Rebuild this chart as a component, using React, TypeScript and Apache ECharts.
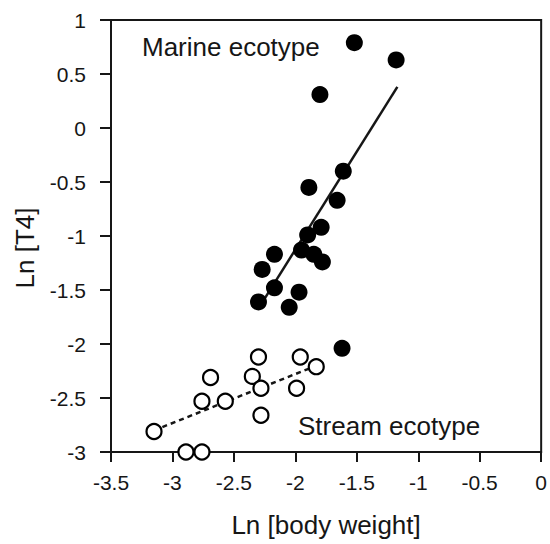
import React, { useEffect, useRef } from "react";
import * as echarts from "echarts";

const marineX = [-1.52, -1.18, -1.8, -1.61, -1.89, -1.66, -1.79, -1.9, -2.17, -2.27, -1.95, -1.85, -1.78, -2.17, -1.97, -2.3, -2.05, -1.62];
const marineY = [0.79, 0.63, 0.31, -0.4, -0.55, -0.67, -0.92, -0.99, -1.17, -1.31, -1.13, -1.17, -1.24, -1.48, -1.52, -1.61, -1.66, -2.04];

const streamX = [-2.3, -1.96, -1.83, -2.69, -2.35, -2.28, -1.99, -2.76, -2.57, -2.28, -3.15, -2.89, -2.76];
const streamY = [-2.12, -2.12, -2.21, -2.31, -2.3, -2.41, -2.41, -2.53, -2.53, -2.66, -2.81, -3.0, -3.0];

const marineFitX = [-2.25, -1.17];
const marineFitY = [-1.58, 0.38];
const streamFitX = [-3.15, -1.85];
const streamFitY = [-2.8, -2.21];

const xTicks = [-3.5, -3, -2.5, -2, -1.5, -1, -0.5, 0];
const yTicks = [-3, -2.5, -2, -1.5, -1, -0.5, 0, 0.5, 1];

const FONT = "Liberation Sans, Arial, sans-serif";
const INK = "#161616";

export default function App() {
  const ref = useRef<HTMLDivElement>(null);
  useEffect(() => {
    if (!ref.current) return;
    const chart = echarts.init(ref.current, undefined, { renderer: "svg" });
    const zip = (a: number[], b: number[]) => a.map((v, i) => [v, b[i]]);
    chart.setOption({
      animation: false,
      backgroundColor: "#fff",
      grid: {
        left: 111,
        right: 5,
        top: 20,
        bottom: 92,
        show: true,
        borderColor: INK,
        borderWidth: 2,
      },
      xAxis: {
        type: "value",
        min: xTicks[0],
        max: xTicks[xTicks.length - 1],
        interval: 0.5,
        splitLine: { show: false },
        axisLine: { show: true, onZero: false, lineStyle: { color: INK, width: 2 } },
        axisTick: { show: true, inside: false, length: 10, lineStyle: { color: INK, width: 2 } },
        axisLabel: { color: INK, fontSize: 21, fontFamily: FONT, margin: 20 },
        name: "Ln [body weight]",
        nameLocation: "middle",
        nameGap: 60,
        nameTextStyle: { color: INK, fontSize: 26, fontFamily: FONT },
      },
      yAxis: {
        type: "value",
        min: yTicks[0],
        max: yTicks[yTicks.length - 1],
        interval: 0.5,
        splitLine: { show: false },
        axisLine: { show: true, onZero: false, lineStyle: { color: INK, width: 2 } },
        axisTick: { show: true, inside: false, length: 11, lineStyle: { color: INK, width: 2 } },
        axisLabel: { color: INK, fontSize: 21, fontFamily: FONT, margin: 25 },
      },
      series: [
        {
          type: "line",
          data: zip(marineFitX, marineFitY),
          showSymbol: false,
          symbol: "none",
          lineStyle: { color: INK, width: 2.5, type: "solid" },
          z: 1,
        },
        {
          type: "line",
          data: zip(streamFitX, streamFitY),
          showSymbol: false,
          symbol: "none",
          lineStyle: { color: INK, width: 2.5, type: [5, 4] },
          z: 1,
        },
        {
          type: "scatter",
          data: zip(marineX, marineY),
          symbol: "circle",
          symbolSize: 17,
          itemStyle: { color: "#000", borderWidth: 0, opacity: 1 },
          z: 3,
        },
        {
          type: "scatter",
          data: zip(streamX, streamY),
          symbol: "circle",
          symbolSize: 15,
          itemStyle: { color: "#fff", borderColor: "#000", borderWidth: 2.2, opacity: 1 },
          z: 3,
        },
      ],
      graphic: [
        {
          type: "text",
          x: 25,
          y: 248,
          rotation: Math.PI / 2,
          style: {
            text: "Ln [T4]",
            fill: INK,
            fontSize: 26,
            fontFamily: FONT,
            align: "center",
            verticalAlign: "middle",
          },
          z: 10,
        },
        {
          type: "text",
          left: 142,
          top: 34,
          style: { text: "Marine ecotype", fill: INK, fontSize: 26, fontFamily: FONT },
          z: 10,
        },
        {
          type: "text",
          left: 298,
          top: 413,
          style: { text: "Stream ecotype", fill: INK, fontSize: 26, fontFamily: FONT },
          z: 10,
        },
      ],
    });
    return () => chart.dispose();
  }, []);
  return <div ref={ref} style={{ width: 550, height: 544, position: "absolute", left: 0, top: 0 }} />;
}
